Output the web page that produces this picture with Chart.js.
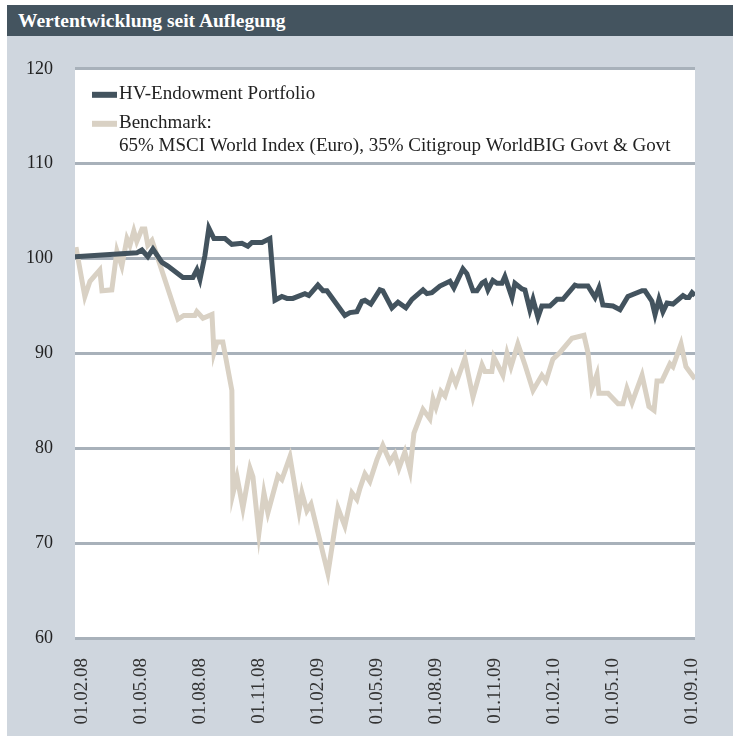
<!DOCTYPE html>
<html>
<head>
<meta charset="utf-8">
<script src="https://cdn.jsdelivr.net/npm/chart.js@4.4.1/dist/chart.umd.min.js"></script>
<style>
  body { margin: 0; background: #fff; }
  #panel { position: absolute; left: 7px; top: 5px; width: 726px; height: 731px; background: #cfd6de; }
  #title { height: 31px; background: #44545f; color: #fff; font: bold 19.5px "Liberation Serif", serif; line-height: 31px; padding-left: 11px; }
  #wrap { position: relative; width: 726px; height: 700px; }
</style>
</head>
<body>
<div id="panel">
  <div id="title">Wertentwicklung seit Auflegung</div>
  <div id="wrap"><canvas id="chart"></canvas></div>
</div>
<script>
// x = months since 01.02.08
const portfolioX = [-0.35, 2.79, 3.05, 3.35, 3.61, 4.07, 4.37, 5.13, 5.64, 5.84, 6.00, 6.25, 6.45, 6.71, 7.27, 7.62, 8.13, 8.43, 8.64, 9.15, 9.55, 9.81, 10.16, 10.42, 10.72, 11.33, 11.53, 11.99, 12.25, 12.45, 13.36, 13.62, 13.97, 14.23, 14.38, 14.68, 15.14, 15.29, 15.75, 16.06, 16.46, 16.77, 17.33, 17.53, 17.78, 18.19, 18.70, 18.90, 19.36, 19.56, 19.87, 20.07, 20.33, 20.48, 20.63, 20.88, 21.09, 21.34, 21.49, 21.85, 22.00, 22.36, 22.51, 22.76, 22.92, 23.17, 23.37, 23.78, 24.14, 24.44, 25.05, 25.20, 25.71, 26.07, 26.27, 26.47, 26.98, 27.34, 27.74, 28.46, 28.61, 28.96, 29.12, 29.32, 29.52, 29.73, 30.03, 30.54, 30.69, 30.84, 31.00, 31.15];
const portfolioY = [100.2, 100.6, 100.9, 100.2, 101.0, 99.6, 99.2, 98.0, 98.0, 98.8, 97.8, 100.3, 103.2, 102.1, 102.1, 101.5, 101.6, 101.3, 101.7, 101.7, 102.1, 95.6, 96.0, 95.8, 95.8, 96.3, 96.1, 97.2, 96.6, 96.6, 94.0, 94.3, 94.4, 95.5, 95.6, 95.2, 96.7, 96.6, 94.8, 95.4, 94.8, 95.7, 96.7, 96.3, 96.4, 97.1, 97.6, 96.9, 98.9, 98.4, 96.6, 96.6, 97.4, 97.6, 96.7, 97.7, 97.4, 97.4, 98.1, 95.9, 97.4, 96.8, 96.7, 94.6, 95.7, 93.8, 95.0, 95.0, 95.7, 95.7, 97.2, 97.1, 97.1, 95.9, 96.9, 95.1, 95.0, 94.6, 96.0, 96.6, 96.6, 95.5, 94.1, 95.7, 94.4, 95.3, 95.2, 96.1, 95.9, 95.9, 96.4, 96.1];

const benchmarkX = [-0.30, 0.15, 0.41, 0.91, 1.02, 1.52, 1.78, 2.03, 2.29, 2.44, 2.64, 2.79, 3.05, 3.20, 3.35, 3.56, 4.88, 5.18, 5.74, 5.84, 6.15, 6.61, 6.71, 6.86, 7.16, 7.62, 7.67, 7.88, 8.18, 8.54, 8.69, 8.99, 9.25, 9.45, 9.96, 10.16, 10.57, 11.03, 11.18, 11.43, 11.64, 12.50, 13.01, 13.36, 13.72, 13.97, 14.13, 14.38, 14.63, 14.99, 15.29, 15.65, 15.90, 16.11, 16.41, 16.67, 16.87, 17.33, 17.68, 17.84, 17.99, 18.24, 18.45, 18.80, 19.00, 19.46, 19.87, 20.33, 20.48, 20.83, 20.93, 21.39, 21.60, 21.80, 22.15, 22.51, 22.92, 23.37, 23.58, 23.93, 24.29, 24.90, 25.51, 25.71, 25.91, 26.17, 26.27, 26.73, 27.24, 27.49, 27.69, 27.95, 28.46, 28.81, 29.07, 29.22, 29.47, 29.88, 30.03, 30.44, 30.69, 31.15];
const benchmarkY = [101.2, 96.0, 97.6, 98.8, 96.6, 96.7, 100.8, 99.2, 102.1, 101.4, 102.9, 101.8, 103.1, 103.1, 101.4, 101.9, 93.6, 94.0, 94.0, 94.4, 93.7, 94.1, 90.1, 91.2, 91.2, 86.1, 75.2, 77.0, 73.7, 77.9, 77.0, 71.0, 75.3, 73.2, 77.1, 76.7, 79.1, 73.4, 75.3, 73.4, 74.1, 66.8, 73.7, 71.8, 75.3, 74.6, 75.8, 77.3, 76.5, 78.8, 80.3, 78.6, 79.4, 77.9, 79.6, 77.6, 81.6, 84.1, 83.1, 85.2, 84.3, 86.0, 85.5, 87.8, 86.8, 89.5, 85.4, 88.8, 88.1, 88.1, 89.6, 87.7, 90.0, 88.6, 91.0, 88.8, 86.1, 87.7, 87.1, 89.4, 90.1, 91.6, 91.9, 90.1, 86.3, 87.8, 85.8, 85.8, 84.7, 84.7, 86.3, 84.8, 87.7, 84.4, 84.0, 87.1, 87.1, 88.9, 88.6, 91.0, 88.6, 87.3];

const tickMonths = [0, 3, 6, 9, 12, 15, 18, 21, 24, 27, 31];
const tickLabels = ["01.02.08", "01.05.08", "01.08.08", "01.11.08", "01.02.09", "01.05.09", "01.08.09", "01.11.09", "01.02.10", "01.05.10", "01.09.10"];

const seriesNames = ["HV-Endowment Portfolio", "Benchmark:\n65% MSCI World Index (Euro), 35% Citigroup WorldBIG Govt & Govt"];
const portfolioColor = "#43535e";
const benchmarkColor = "#d9d1c4";

const serif = '"Liberation Serif", "DejaVu Serif", serif';

function toPoints(xs, ys) {
  return xs.map((x, i) => ({ x: x, y: ys[i] }));
}

const plotBackground = {
  id: "plotBackground",
  beforeDraw(chart) {
    const { ctx, chartArea } = chart;
    ctx.save();
    ctx.fillStyle = "#ffffff";
    ctx.fillRect(chartArea.left, chartArea.top, chartArea.right - chartArea.left, chartArea.bottom - chartArea.top);
    ctx.restore();
  },
};

// legend sits inside the plot, benchmark label has two lines
const innerLegend = {
  id: "innerLegend",
  afterDraw(chart) {
    const { ctx, chartArea } = chart;
    ctx.save();
    ctx.font = "19px " + serif;
    ctx.textBaseline = "middle";
    let y = chartArea.top + 25;
    chart.data.datasets.forEach((ds) => {
      ctx.fillStyle = ds.borderColor;
      ctx.fillRect(chartArea.left + 17, y - 2, 25, 6);
      ctx.fillStyle = "#222";
      ds.label.split("\n").forEach((line) => {
        ctx.fillText(line, chartArea.left + 44, y);
        y += 23;
      });
      y += 6;
    });
    ctx.restore();
  },
};

const ctx = document.getElementById("chart").getContext("2d");
new Chart(ctx, {
  type: "line",
  data: {
    datasets: [
      {
        label: seriesNames[0],
        data: toPoints(portfolioX, portfolioY),
        borderColor: portfolioColor,
        borderWidth: 5,
        pointRadius: 0,
        tension: 0,
      },
      {
        label: seriesNames[1],
        data: toPoints(benchmarkX, benchmarkY),
        borderColor: benchmarkColor,
        borderWidth: 5,
        pointRadius: 0,
        tension: 0,
      },
    ],
  },
  options: {
    responsive: true,
    maintainAspectRatio: false,
    animation: false,
    layout: { padding: { top: 28, right: 38, left: 0, bottom: 0 } },
    plugins: {
      legend: { display: false },
      tooltip: { enabled: false },
    },
    scales: {
      x: {
        type: "linear",
        min: -0.35,
        max: 31.15,
        grid: { display: false },
        border: { display: false },
        afterBuildTicks(scale) {
          scale.ticks = tickMonths.map((v) => ({ value: v }));
        },
        afterFit(scale) {
          scale.height = 98;
        },
        ticks: {
          autoSkip: false,
          minRotation: 90,
          maxRotation: 90,
          padding: 12,
          color: "#333",
          font: { family: serif, size: 19 },
          callback: (value) => tickLabels[tickMonths.indexOf(value)],
        },
      },
      y: {
        min: 60,
        max: 120,
        border: { display: false },
        grid: { color: "#a8b1ba", lineWidth: 3, drawTicks: false },
        afterFit(scale) {
          scale.width = 68;
        },
        ticks: {
          stepSize: 10,
          padding: 22,
          color: "#222",
          font: { family: serif, size: 18 },
        },
      },
    },
  },
  plugins: [plotBackground, innerLegend],
});
</script>
</body>
</html>
